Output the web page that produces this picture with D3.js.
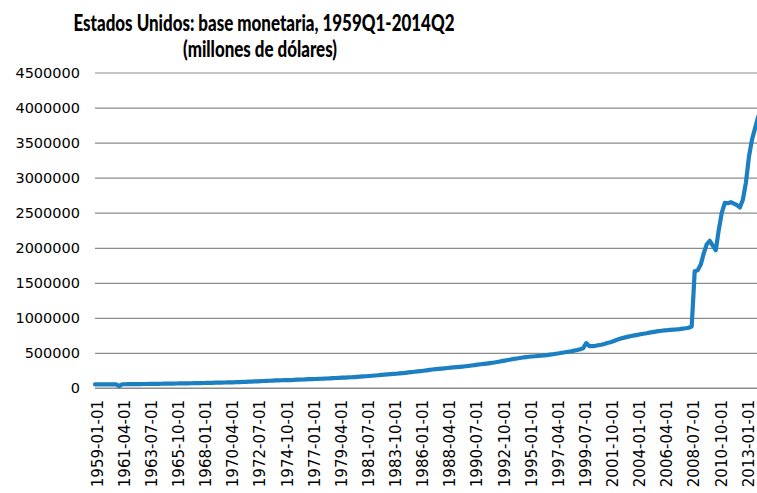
<!DOCTYPE html>
<html>
<head>
<meta charset="utf-8">
<script src="https://cdn.jsdelivr.net/npm/d3@7"></script>
<style>
  html, body { margin: 0; padding: 0; background: #fff; }
  svg { display: block; }
</style>
</head>
<body>
<svg id="chart" width="757" height="493"></svg>
<script>
// Quarterly monetary base, millions of dollars, 1959Q1 .. 2014Q2
const startYear = 1959;
const baseValues = [
  52000, 52300, 52600, 52400,       // 1959
  52100, 51900, 52300, 52800,       // 1960
  27000, 53200, 53600, 54200,       // 1961
  54700, 55100, 55500, 56100,       // 1962
  56800, 57400, 58100, 58800,       // 1963
  59500, 60200, 60900, 61700,       // 1964
  62400, 63000, 63700, 64500,       // 1965
  65200, 65800, 66300, 66900,       // 1966
  67500, 68300, 69200, 70100,       // 1967
  71100, 72200, 73300, 74500,       // 1968
  75500, 76400, 77200, 78100,       // 1969
  79000, 80200, 81500, 85500,       // 1970
  84600, 86700, 88500, 90200,       // 1971
  91800, 93600, 95700, 97900,       // 1972
  99800, 101700, 103600, 105800,    // 1973
  107600, 109200, 110600, 111900,   // 1974
  111800, 113700, 115600, 119800,   // 1975
  119000, 121000, 123100, 125200,   // 1976
  126900, 128600, 130200, 131800,   // 1977
  133400, 135700, 138100, 140500,   // 1978
  142800, 144900, 147100, 149200,   // 1979
  151000, 153400, 156300, 159600,   // 1980
  162200, 164700, 167500, 170800,   // 1981
  174600, 178300, 182100, 186400,   // 1982
  190200, 193900, 197600, 200800,   // 1983
  203500, 207600, 212300, 216900,   // 1984
  221800, 226500, 231400, 236100,   // 1985
  240700, 246200, 252100, 258400,   // 1986
  264300, 268600, 272500, 276800,   // 1987
  280600, 285100, 289900, 294200,   // 1988
  298300, 301600, 305400, 309800,   // 1989
  314600, 320500, 326900, 333100,   // 1990
  338700, 343400, 348200, 353900,   // 1991
  360100, 366800, 374200, 382500,   // 1992
  390400, 398600, 406900, 414700,   // 1993
  421200, 428400, 435100, 441300,   // 1994
  445800, 449600, 452900, 456400,   // 1995
  459800, 464100, 469300, 475200,   // 1996
  481700, 488600, 495100, 502600,   // 1997
  509400, 516800, 524300, 532900,   // 1998
  541500, 553200, 567800, 640500,   // 1999
  598200, 596400, 601800, 609500,   // 2000
  617300, 628400, 641700, 652900,   // 2001
  668000, 684000, 698000, 712000,   // 2002
  722000, 733000, 742000, 751000,   // 2003
  758000, 766000, 774000, 781000,   // 2004
  789000, 797000, 805000, 811000,   // 2005
  816000, 821000, 825000, 830000,   // 2006
  833000, 836000, 840000, 846000,   // 2007
  852000, 860000, 878000, 1665000,  // 2008
  1680000, 1760000, 1920000, 2050000, // 2009
  2100000, 2030000, 1965000, 2260000, // 2010
  2500000, 2640000, 2635000, 2650000, // 2011
  2630000, 2610000, 2575000, 2690000, // 2012
  2930000, 3300000, 3540000, 3700000, // 2013
  3860000, 3970000                    // 2014
];

// Category labels, one per quarter (YYYY-MM-01)
const quarterMonths = ["01", "04", "07", "10"];
const quarters = baseValues.map((_, i) =>
  `${startYear + Math.floor(i / 4)}-${quarterMonths[i % 4]}-01`);

// Every ninth quarter is labelled on the category axis
const tickLabels = [
  "1959-01-01", "1961-04-01", "1963-07-01", "1965-10-01", "1968-01-01",
  "1970-04-01", "1972-07-01", "1974-10-01", "1977-01-01", "1979-04-01",
  "1981-07-01", "1983-10-01", "1986-01-01", "1988-04-01", "1990-07-01",
  "1992-10-01", "1995-01-01", "1997-04-01", "1999-07-01", "2001-10-01",
  "2004-01-01", "2006-04-01", "2008-07-01", "2010-10-01", "2013-01-01"
];
const yTicks = [0, 500000, 1000000, 1500000, 2000000, 2500000,
                3000000, 3500000, 4000000, 4500000];

const titleLines = ["Estados Unidos: base monetaria, 1959Q1-2014Q2",
                    "(millones de dólares)"];

const svg = d3.select("#chart");
const W = 757, H = 493;
const plot = { left: 95, right: 761, top: 72.5, bottom: 388 };

const x = d3.scalePoint().domain(quarters).range([plot.left, plot.right]);
const y = d3.scaleLinear().domain([0, 4500000]).range([plot.bottom, plot.top]);

const labelFont = "'DejaVu Sans', sans-serif";

// Horizontal gridlines and value labels
const yAxis = d3.axisLeft(y).tickValues(yTicks)
  .tickFormat(d3.format("d"))
  .tickSize(-(W - plot.left))
  .tickPadding(15);
const gy = svg.append("g")
  .attr("transform", `translate(${plot.left},0)`)
  .call(yAxis);
gy.select(".domain").remove();
gy.selectAll(".tick line")
  .attr("stroke", "#8c8c8c")
  .attr("stroke-width", 1.2);
gy.selectAll(".tick text")
  .attr("fill", "#000")
  .style("font-family", labelFont)
  .style("font-size", "14.5px");

// Category axis with vertical date labels
const xAxis = d3.axisBottom(x).tickValues(tickLabels).tickSize(0).tickPadding(0);
const gx = svg.append("g")
  .attr("transform", `translate(0,${plot.bottom})`)
  .call(xAxis);
gx.select(".domain")
  .attr("d", `M${plot.left},0H${W}`)
  .attr("stroke", "#8c8c8c")
  .attr("stroke-width", 1.2);
gx.selectAll(".tick text")
  .attr("fill", "#000")
  .style("font-family", labelFont)
  .style("font-size", "15px")
  .attr("text-anchor", "end")
  .attr("transform", "translate(2,12) rotate(-90)")
  .attr("x", 0)
  .attr("y", 0)
  .attr("dy", "0.35em");

// Series line
const line = d3.line()
  .x((d, i) => x(quarters[i]))
  .y(d => y(d));
svg.append("path")
  .datum(baseValues)
  .attr("fill", "none")
  .attr("stroke", "#1b7fc2")
  .attr("stroke-width", 4.2)
  .attr("stroke-linejoin", "round")
  .attr("stroke-linecap", "round")
  .attr("d", line);

// Title
const titleFont = "'Liberation Sans Narrow', Lato, sans-serif";
const title = svg.append("g");
title.append("text")
  .attr("x", 264).attr("y", 31)
  .attr("text-anchor", "middle")
  .attr("textLength", 381)
  .attr("lengthAdjust", "spacingAndGlyphs")
  .style("font-family", titleFont)
  .style("font-weight", "900")
  .style("font-size", "23px")
  .text(titleLines[0]);
title.append("text")
  .attr("x", 260).attr("y", 57)
  .attr("text-anchor", "middle")
  .attr("textLength", 154)
  .attr("lengthAdjust", "spacingAndGlyphs")
  .style("font-family", titleFont)
  .style("font-weight", "900")
  .style("font-size", "23px")
  .text(titleLines[1]);
</script>
</body>
</html>
